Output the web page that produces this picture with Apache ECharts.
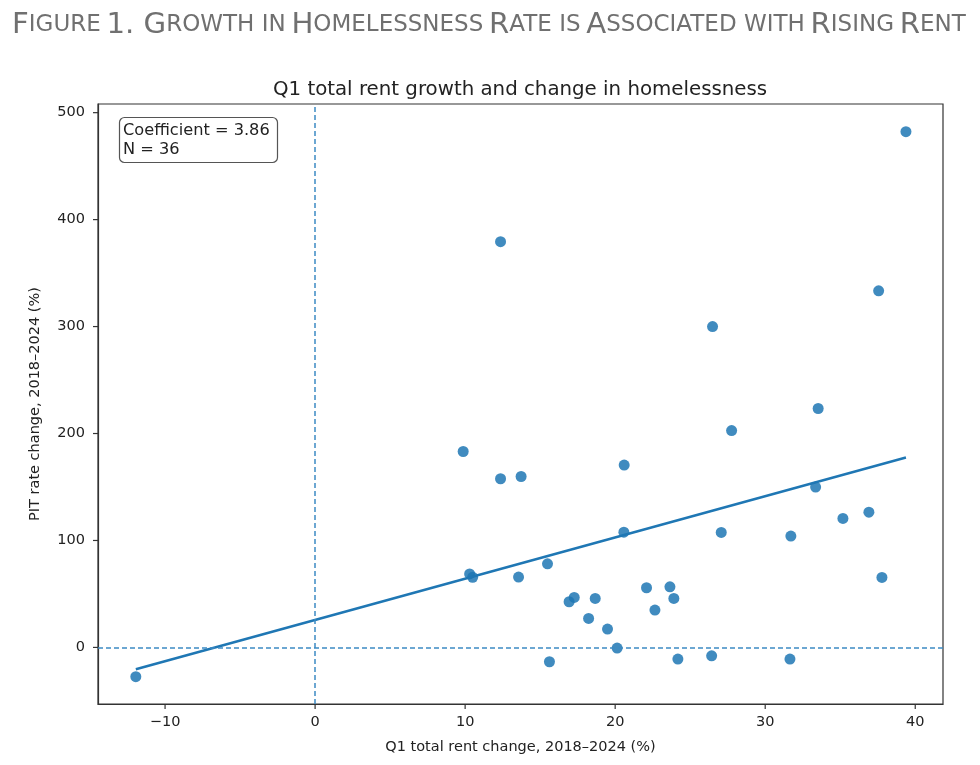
<!DOCTYPE html>
<html>
<head>
<meta charset="utf-8">
<script src="https://cdn.jsdelivr.net/npm/echarts@6/dist/echarts.min.js"></script>
<style>
  html, body { margin: 0; padding: 0; background: #fff; }
  #chart { width: 980px; height: 765px; }
</style>
</head>
<body>
<div id="chart"></div>
<script>
// rent change (%) and PIT rate change (%) for each metro
var rentChange = [-11.95, 9.87, 10.3, 10.5, 12.36, 12.36, 13.73, 13.56, 15.49, 15.62,
                  16.93, 17.27, 18.23, 18.67, 19.49, 20.13, 20.58, 20.6, 22.09, 22.65,
                  23.65, 23.91, 24.18, 26.43, 26.49, 27.07, 27.76, 31.65, 31.71, 33.36,
                  33.53, 35.18, 36.91, 37.56, 37.78, 39.38];
var pitChange = [-27.4, 183.2, 68.7, 65.6, 379.4, 157.7, 159.8, 65.8, 78.2, -13.4,
                 42.7, 46.7, 27.1, 45.8, 17.2, -0.6, 107.8, 170.5, 55.8, 34.9,
                 56.7, 45.8, -10.9, -7.8, 300, 107.5, 202.8, -10.9, 104.1, 149.9,
                 223.4, 120.6, 126.5, 333.4, 65.4, 482.2];
// fitted line end points
var fitX = [-11.95, 39.38];
var fitY = [-20.4, 177.6];
// axis extents and ticks
var xRange = [-14.47, 41.85];
var yRange = [-52.9, 508.1];
var xTicks = [-10, 0, 10, 20, 30, 40];
var yTicks = [0, 100, 200, 300, 400, 500];

var points = rentChange.map(function (x, i) { return [x, pitChange[i]]; });
var fitLine = fitX.map(function (x, i) { return [x, fitY[i]]; });

var blue = '#1f77b4';
var ink = '#333';
var fmt = function (v) { return String(v).replace('-', '\u2212'); };

// tick marks outside the frame, placed through the axes' own scales
function tickSeries(values, horizontal) {
    return {
        type: 'custom',
        silent: true,
        clip: false,
        data: values.map(function (v) { return horizontal ? [v, yRange[0]] : [xRange[0], v]; }),
        renderItem: function (params, api) {
            var p = api.coord([api.value(0), api.value(1)]);
            return {
                type: 'line',
                shape: horizontal
                    ? { x1: p[0], y1: p[1], x2: p[0], y2: p[1] + 5 }
                    : { x1: p[0], y1: p[1], x2: p[0] - 5, y2: p[1] },
                style: { stroke: ink, lineWidth: 1.2 }
            };
        }
    };
}

var chart = echarts.init(document.getElementById('chart'));
chart.setOption({
    animation: false,
    textStyle: { fontFamily: 'DejaVu Sans' },
    title: [
        {
            text: '{b|F}{s|IGURE} {b|1. G}{s|ROWTH IN} {b|H}{s|OMELESSNESS} {b|R}{s|ATE IS} {b|A}{s|SSOCIATED WITH} {b|R}{s|ISING} {b|R}{s|ENT}',
            left: 7,
            top: 6,
            textStyle: {
                fontWeight: 'normal',
                rich: {
                    b: { fontFamily: 'DejaVu Sans', fontWeight: 'normal', fontSize: 29.2, color: '#707070' },
                    s: { fontFamily: 'DejaVu Sans', fontWeight: 'normal', fontSize: 23, color: '#707070' }
                }
            }
        },
        {
            text: 'Q1 total rent growth and change in homelessness',
            left: 515,
            top: 75,
            textAlign: 'center',
            textStyle: { fontSize: 19.8, fontWeight: 'normal', color: '#222', fontFamily: 'DejaVu Sans' }
        },
        {
            text: 'Coefficient = 3.86\nN = 36',
            left: 119,
            top: 117,
            padding: [4, 8, 4, 4],
            borderColor: '#555',
            borderWidth: 1.2,
            borderRadius: 5,
            textStyle: { fontSize: 16.2, fontWeight: 'normal', color: '#222', lineHeight: 19, fontFamily: 'DejaVu Sans' }
        }
    ],
    grid: {
        left: 98,
        right: 37,
        top: 104,
        bottom: 61,
        show: true,
        borderColor: ink,
        borderWidth: 1.2
    },
    xAxis: {
        type: 'value',
        min: xRange[0],
        max: xRange[1],
        splitNumber: 6,
        minInterval: 10,
        maxInterval: 10,
        name: 'Q1 total rent change, 2018\u20132024 (%)',
        nameLocation: 'middle',
        nameGap: 36,
        nameTextStyle: { fontSize: 14.5, color: '#222' },
        axisLine: { show: true, onZero: false, lineStyle: { color: ink, width: 1.2 } },
        axisTick: { show: false },
        axisLabel: { fontSize: 14.5, color: '#222', margin: 11, formatter: fmt, showMinLabel: false, showMaxLabel: false },
        splitLine: { show: false }
    },
    yAxis: {
        type: 'value',
        min: yRange[0],
        max: yRange[1],
        splitNumber: 6,
        minInterval: 100,
        maxInterval: 100,
        name: 'PIT rate change, 2018\u20132024 (%)',
        nameLocation: 'middle',
        nameGap: 55,
        nameTextStyle: { fontSize: 14.5, color: '#222' },
        axisLine: { show: true, onZero: false, lineStyle: { color: ink, width: 1.2 } },
        axisTick: { show: false },
        axisLabel: { fontSize: 14.5, color: '#222', margin: 13, formatter: fmt, showMinLabel: false, showMaxLabel: false },
        splitLine: { show: false }
    },
    series: [
        {
            type: 'scatter',
            data: points,
            symbolSize: 11,
            itemStyle: { color: blue, opacity: 0.85 },
            silent: true,
            z: 3
        },
        {
            type: 'line',
            data: fitLine,
            showSymbol: false,
            symbol: 'none',
            silent: true,
            lineStyle: { color: blue, width: 2.5 },
            z: 4,
            markLine: {
                silent: true,
                symbol: 'none',
                label: { show: false },
                emphasis: { disabled: true },
                lineStyle: { color: '#3d8bc4', width: 1.5, type: [5, 3], opacity: 1 },
                data: [{ xAxis: 0 }, { yAxis: 0 }]
            }
        },
        tickSeries(xTicks, true),
        tickSeries(yTicks, false)
    ]
});
</script>
</body>
</html>
